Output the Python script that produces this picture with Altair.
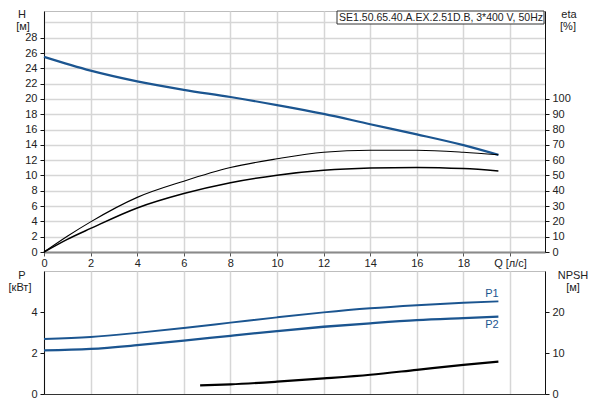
import altair as alt
import pandas as pd

# ---- data ----
q_main = [0, 2, 4, 6, 8, 10, 12, 14, 16, 18, 19.5]
head_m = [25.5, 23.7, 22.3, 21.2, 20.26, 19.2, 18.05, 16.7, 15.38, 13.97, 12.7]

q_eta = [0, 1, 2, 4, 6, 8, 10, 12, 14, 16, 18, 19.5]
eta_pump = [0, 10.3, 19.7, 35.7, 46.3, 55.2, 60.9, 65.2, 66.5, 66.5, 65.2, 63.5]
eta_total = [0, 8.3, 15.4, 28.8, 38.2, 45.3, 50.2, 53.4, 54.9, 55.3, 54.5, 53.0]

p1_kw = [2.68, 2.78, 2.98, 3.22, 3.48, 3.74, 3.98, 4.18, 4.33, 4.45, 4.52]
p2_kw = [2.13, 2.20, 2.38, 2.60, 2.84, 3.07, 3.28, 3.45, 3.60, 3.70, 3.77]

q_npsh = [6.7, 8, 10, 12, 14, 16, 18, 19.5]
npsh_m = [2.1, 2.35, 3.0, 3.8, 4.7, 5.9, 7.1, 7.9]

q_ticks = [0, 2, 4, 6, 8, 10, 12, 14, 16, 18, 20]
h_ticks = [0, 2, 4, 6, 8, 10, 12, 14, 16, 18, 20, 22, 24, 26, 28, 30]
eta_ticks = [0, 10, 20, 30, 40, 50, 60, 70, 80, 90, 100]
p_ticks = [0, 2, 4]
npsh_ticks = [0, 10, 20]

title_text = "SE1.50.65.40.A.EX.2.51D.B, 3*400 V, 50Hz"

BLUE = "#1b5590"
TXT = "#222222"
GRID = "#d6d6d6"

df_h = pd.DataFrame({"q": q_main, "h": head_m})
df_eta = pd.concat([
    pd.DataFrame({"q": q_eta, "eta": eta_pump, "s": "pump"}),
    pd.DataFrame({"q": q_eta, "eta": eta_total, "s": "total"}),
])
df_p = pd.concat([
    pd.DataFrame({"q": q_main, "p": p1_kw, "s": "P1"}),
    pd.DataFrame({"q": q_main, "p": p2_kw, "s": "P2"}),
])
df_npsh = pd.DataFrame({"q": q_npsh, "n": npsh_m})

W = 501
H_TOP = 241
H_BOT = 123

xs = alt.Scale(domain=[0, 21.5], nice=False, zero=False)


def label(txt, x, y, align="center", color=TXT, size=11):
    return alt.Chart(pd.DataFrame({"t": [txt]})).mark_text(
        align=align, baseline="middle", fontSize=size, color=color,
        font="Liberation Sans"
    ).encode(text="t:N", x=alt.value(x), y=alt.value(y))


# ---------------- top panel ----------------
x_top_axis = alt.Axis(
    values=q_ticks, title=None, grid=True, labelFlush=False, labelOverlap=False,
    labelExpr="datum.value == 20 ? 'Q [л/с]' : datum.label",
    domainColor="#8a8a8a", domainWidth=2, tickColor="#555555", tickSize=4,
    labelPadding=1,
)
h_axis = alt.Axis(
    values=h_ticks, title=None, grid=True, labelFlush=False,
    labelExpr="datum.value > 29 ? '' : datum.label",
    tickOpacity={"condition": {"test": "datum.value > 29", "value": 0}, "value": 1},
    domainColor="#111111", tickColor="#111111", tickSize=4, labelPadding=3,
)
eta_axis = alt.Axis(
    values=eta_ticks, title=None, grid=False, orient="right", labelFlush=False,
    domainColor="#111111", tickColor="#111111", tickSize=4, labelPadding=3,
)

h_line = alt.Chart(df_h).mark_line(color=BLUE, strokeWidth=2.2, interpolate="monotone").encode(
    x=alt.X("q:Q", scale=xs, axis=x_top_axis),
    y=alt.Y("h:Q", scale=alt.Scale(domain=[0, 31.5], nice=False), axis=h_axis),
)

eta_lines = alt.Chart(df_eta).mark_line(color="black", interpolate="monotone").encode(
    x=alt.X("q:Q", scale=xs),
    y=alt.Y("eta:Q", scale=alt.Scale(domain=[0, 157.5], nice=False), axis=eta_axis),
    strokeWidth=alt.StrokeWidth("s:N", scale=alt.Scale(domain=["pump", "total"], range=[1.1, 2.3]), legend=None),
    detail="s:N",
)

box = alt.Chart(pd.DataFrame({"t": [title_text]})).mark_rect(
    fill="white", stroke="#333333", strokeWidth=1
).encode(x=alt.value(293), x2=alt.value(500), y=alt.value(0), y2=alt.value(13))

top = alt.layer(
    h_line, eta_lines, box,
    label(title_text, 397, 7, size=10.5),
    label("H", -22, 4),
    label("[м]", -21, 15.5),
    label("eta", 525, 4),
    label("[%]", 524, 15.5),
).resolve_scale(y="independent").properties(width=W, height=H_TOP)

# ---------------- bottom panel ----------------
x_bot_axis = alt.Axis(
    values=q_ticks, title=None, grid=True, labels=False, ticks=False,
    domainColor="#333333", domainWidth=1.2,
)
p_axis = alt.Axis(
    values=p_ticks, title=None, grid=False, labelFlush=False,
    domainColor="#111111", tickColor="#111111", tickSize=4, labelPadding=3,
)
npsh_axis = alt.Axis(
    values=npsh_ticks, title=None, grid=False, orient="right", labelFlush=False,
    domainColor="#111111", tickColor="#111111", tickSize=4, labelPadding=3,
)

p_lines = alt.Chart(df_p).mark_line(color=BLUE, interpolate="monotone").encode(
    x=alt.X("q:Q", scale=xs, axis=x_bot_axis),
    y=alt.Y("p:Q", scale=alt.Scale(domain=[0, 6], nice=False), axis=p_axis),
    strokeWidth=alt.StrokeWidth("s:N", scale=alt.Scale(domain=["P1", "P2"], range=[2.3, 1.2]), legend=None),
    detail="s:N",
)
npsh_line = alt.Chart(df_npsh).mark_line(color="black", strokeWidth=2.2, interpolate="monotone").encode(
    x=alt.X("q:Q", scale=xs),
    y=alt.Y("n:Q", scale=alt.Scale(domain=[0, 30], nice=False), axis=npsh_axis),
)

bottom = alt.layer(
    p_lines, npsh_line,
    label("P1", 448, 23, color=BLUE),
    label("P2", 448, 54, color=BLUE),
    label("P", -22, 5),
    label("[кВт]", -24, 17),
    label("NPSH", 529, 5),
    label("[м]", 529, 17),
).resolve_scale(y="independent").properties(width=W, height=H_BOT)

chart = alt.vconcat(top, bottom, spacing=0).properties(
    padding={"left": 0, "top": 0, "right": 0, "bottom": 0}
).configure(font="Liberation Sans").configure_view(
    stroke="#bdbdbd", strokeWidth=1
).configure_axis(
    labelFont="Liberation Sans", labelFontSize=11, labelColor=TXT,
    gridColor=GRID, gridWidth=1.5,
)

chart.save("out.html", embed_options={"renderer": "svg", "actions": False})
